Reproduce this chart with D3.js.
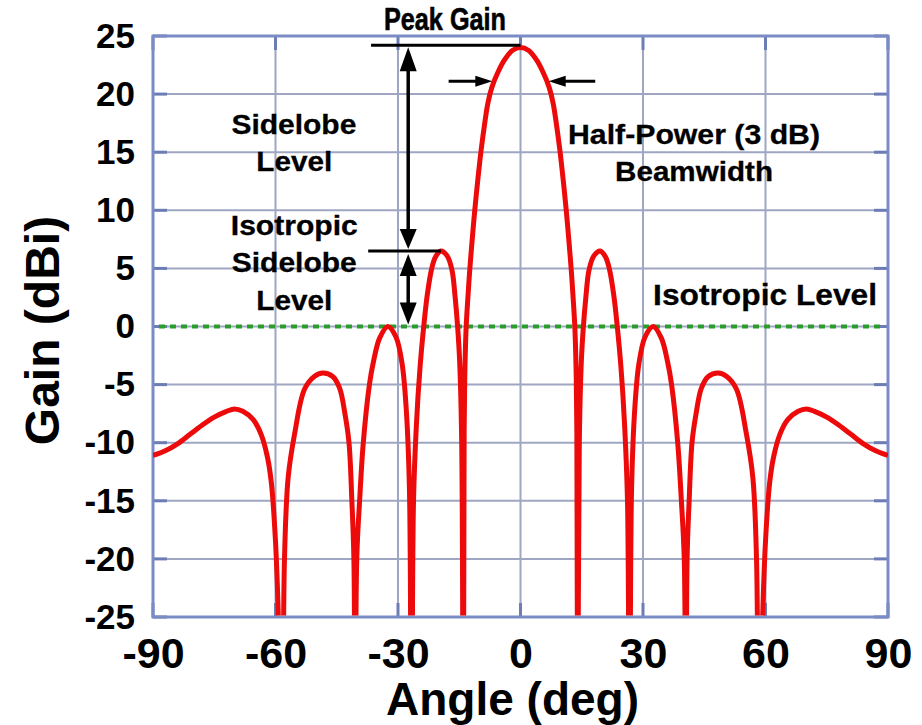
<!DOCTYPE html>
<html><head><meta charset="utf-8">
<script src="https://cdn.jsdelivr.net/npm/d3@7"></script>
<style>
body{margin:0;background:#fff;}
svg{display:block;font-family:"Liberation Sans",Arial,Helvetica,sans-serif;font-weight:bold;}
</style>
</head><body>
<svg id="chart" width="922" height="725"></svg>
<script>
// ---- data ----
const angles = [
  -90, -87, -84, -81, -78, -75, -72, -70, -68, -65.5, -63.5, -62, -61, -60, -59.3,
  -58.4, -57.8, -56.9, -55.3, -52.9, -50.5, -48.4, -46, -44.3, -43, -42, -41.3, -40.8,
  -40.5, -40.1, -39.4, -38.5, -37, -36, -34.5, -32.5, -30.5, -29, -28, -27.2,
  -26.7, -26.2, -25.5, -24.6, -23.7, -22.8, -21.8, -20.8, -19.5, -18, -16.8, -16, -15.4, -14.9, -14.4,
  -14, -13.8, -13.6, -13.3, -12.9, -12.4, -11.8, -11.2, -10.4, -9.6, -8.8, -8, -7, -5.5, -4, -2,
  0,
  2, 4, 5.5, 7, 8, 8.8, 9.6, 10.4, 11.2, 11.8, 12.4, 12.9, 13.3, 13.6, 13.8, 14,
  14.4, 14.9, 15.4, 16, 16.8, 18, 19.5, 20.8, 21.8, 22.8, 23.7, 24.6, 25.5, 26.2, 26.7,
  27.2, 28, 29, 30.5, 32.5, 34.5, 36, 37, 38.5, 39.4, 40.1, 40.5,
  40.8, 41.3, 42, 43, 44.3, 46, 48.4, 50.5, 52.9, 55.3, 56.9, 57.8, 58.4,
  59.3, 60, 61, 62, 63.5, 65.5, 68, 70, 72, 75, 78, 81, 84, 87, 90
];
const gains = [
  -11.1, -10.7, -10.1, -9.3, -8.5, -7.8, -7.3, -7.1, -7.3, -8.0, -9.3, -11.2, -13.5, -18.5, -25,
  -40, -20, -13, -9.2, -5.4, -4.3, -4.0, -4.3, -5.3, -7.5, -10, -15, -20,
  -40, -20, -15, -10, -5, -3, -1, 0, -0.9, -3.2, -7, -14,
  -40, -15, -8.5, -3.5, 0, 2.8, 4.9, 6.0, 6.5, 6.1, 4.9, 2.5, 0, -3, -10,
  -40, -9, -3.5, 0, 2.4, 5, 7.6, 10, 12.8, 15.3, 17.4, 19.2, 20.6, 21.9, 22.9, 23.75,
  24.0,
  23.75, 22.9, 21.9, 20.6, 19.2, 17.4, 15.3, 12.8, 10, 7.6, 5, 2.4, 0, -3.5, -9, -40,
  -10, -3, 0, 2.5, 4.9, 6.1, 6.5, 6.0, 4.9, 2.8, 0, -3.5, -8.5, -15, -40,
  -14, -7, -3.2, -0.9, 0, -1, -3, -5, -10, -15, -20, -40,
  -20, -15, -10, -7.5, -5.3, -4.3, -4.0, -4.3, -5.4, -9.2, -13, -20, -40,
  -25, -18.5, -13.5, -11.2, -9.3, -8.0, -7.3, -7.1, -7.3, -7.8, -8.5, -9.3, -10.1, -10.7, -11.1
];
const xTicks = [-90, -60, -30, 0, 30, 60, 90];
const yTicks = [25, 20, 15, 10, 5, 0, -5, -10, -15, -20, -25];
const xTitle = "Angle (deg)";
const yTitle = "Gain (dBi)";

// annotation values (in data units)
const isotropicLevel = 0;
const peakGain = 24.2;
const sidelobeLevel = 6.5;
const halfPowerLevel = 21.1;
const beamEdges = [-6.9, 6.9];
const beamArrowTails = [-17.6, 18.3];
const arrowAngle = -27.5;
const peakLineStart = -36.6;
const sidelobeLineStart = -37.3;
const sidelobePeakAngle = -19.5;
const labels = [
  {text: "Peak Gain", a: -18.5, g: 25.5, size: 31, w: 122},
  {text: "Sidelobe", a: -55.5, g: 16.55, size: 27, w: 125},
  {text: "Level", a: -55.4, g: 13.4, size: 27, w: 76},
  {text: "Isotropic", a: -55.4, g: 7.9, size: 27, w: 127},
  {text: "Sidelobe", a: -55.4, g: 4.65, size: 27, w: 125},
  {text: "Level", a: -55.4, g: 1.45, size: 27, w: 76},
  {text: "Half-Power (3 dB)", a: 42.5, g: 15.7, size: 27, w: 252},
  {text: "Beamwidth", a: 42.5, g: 12.5, size: 27, w: 158},
  {text: "Isotropic Level", a: 59.9, g: 1.85, size: 30, w: 224}
];

// ---- drawing ----
const svg = d3.select("#chart");
const x = d3.scaleLinear().domain([-90, 90]).range([153, 888]);
const y = d3.scaleLinear().domain([-25, 25]).range([617, 36]);

const gridColor = "#9ea6c2", frameColor = "#7b8bc6", tickColor = "#6c7cb4";

// grid
svg.append("g").selectAll("line").data(xTicks.slice(1, -1)).join("line")
  .attr("x1", d => x(d)).attr("x2", d => x(d)).attr("y1", y(25)).attr("y2", y(-25))
  .attr("stroke", gridColor).attr("stroke-width", 2);
svg.append("g").selectAll("line").data(yTicks.slice(1, -1)).join("line")
  .attr("y1", d => y(d)).attr("y2", d => y(d)).attr("x1", x(-90)).attr("x2", x(90))
  .attr("stroke", gridColor).attr("stroke-width", 2);

// inner tick marks
const tl = 14;
const tg = svg.append("g").attr("stroke", tickColor).attr("stroke-width", 3);
yTicks.forEach(d => {
  tg.append("line").attr("x1", x(-90)).attr("x2", x(-90) + tl).attr("y1", y(d)).attr("y2", y(d));
  tg.append("line").attr("x1", x(90)).attr("x2", x(90) - tl).attr("y1", y(d)).attr("y2", y(d));
});
xTicks.forEach(d => {
  tg.append("line").attr("x1", x(d)).attr("x2", x(d)).attr("y1", y(25)).attr("y2", y(25) + tl);
  tg.append("line").attr("x1", x(d)).attr("x2", x(d)).attr("y1", y(-25)).attr("y2", y(-25) - tl);
});

// frame
svg.append("rect").attr("x", x(-90)).attr("y", y(25))
  .attr("width", x(90) - x(-90)).attr("height", y(-25) - y(25))
  .attr("fill", "none").attr("stroke", frameColor).attr("stroke-width", 3);

// axes labels (plain hyphen-minus like the reference)
const fmt = d => String(d);
const yAxis = svg.append("g").attr("transform", `translate(${x(-90)},0)`)
  .call(d3.axisLeft(y).tickValues(yTicks).tickSize(0).tickPadding(18).tickFormat(fmt));
yAxis.select(".domain").remove();
yAxis.selectAll("text").attr("font-size", 35).attr("font-family", null).attr("fill", "#000")
  .style("font-weight", "bold");

const xAxis = svg.append("g").attr("transform", `translate(0,${y(-25)})`)
  .call(d3.axisBottom(x).tickValues(xTicks).tickSize(0).tickPadding(20).tickFormat(fmt));
xAxis.select(".domain").remove();
xAxis.selectAll("text").attr("font-size", 43).attr("font-family", null).attr("fill", "#000")
  .style("font-weight", "bold");

svg.append("text").text(xTitle).attr("x", (x(-90) + x(90)) / 2 - 8).attr("y", 715)
  .attr("text-anchor", "middle").attr("font-size", 46);
svg.append("text").text(yTitle).attr("transform", `translate(59,${y(0) + 4}) rotate(-90)`)
  .attr("text-anchor", "middle").attr("font-size", 48);

// isotropic level line
svg.append("line").attr("x1", x(-90) + 6).attr("x2", x(90) - 6)
  .attr("y1", y(isotropicLevel)).attr("y2", y(isotropicLevel))
  .attr("stroke", "#2a9d2a").attr("stroke-width", 4).attr("stroke-dasharray", "6,5");

// curve
svg.append("clipPath").attr("id", "plotclip").append("rect")
  .attr("x", x(-90)).attr("y", y(25) - 10).attr("width", x(90) - x(-90)).attr("height", y(-25) - y(25) + 8.5);
const pts = angles.map((a, i) => [a, gains[i]]);
svg.append("path").datum(pts).attr("clip-path", "url(#plotclip)")
  .attr("d", d3.line().x(d => x(d[0])).y(d => y(d[1])).curve(d3.curveCatmullRom.alpha(0.5)))
  .attr("fill", "none").attr("stroke", "#ec0a0a").attr("stroke-width", 5)
  .attr("stroke-linejoin", "round");

// annotations
const ag = svg.append("g");
function head(tx, ty, dir, len, w) {
  let p;
  if (dir === "up") p = [[tx, ty], [tx - w / 2, ty + len], [tx + w / 2, ty + len]];
  if (dir === "down") p = [[tx, ty], [tx - w / 2, ty - len], [tx + w / 2, ty - len]];
  if (dir === "right") p = [[tx, ty], [tx - len, ty - w / 2], [tx - len, ty + w / 2]];
  if (dir === "left") p = [[tx, ty], [tx + len, ty - w / 2], [tx + len, ty + w / 2]];
  ag.append("path").attr("d", "M" + p.join("L") + "Z").attr("fill", "#000");
}
function seg(x1, y1, x2, y2, w) {
  ag.append("line").attr("x1", x1).attr("y1", y1).attr("x2", x2).attr("y2", y2)
    .attr("stroke", "#000").attr("stroke-width", w);
}
seg(x(peakLineStart), y(peakGain), x(0), y(peakGain), 3);
seg(x(sidelobeLineStart), y(sidelobeLevel), x(sidelobePeakAngle), y(sidelobeLevel), 3);
const ax = x(arrowAngle);
seg(ax, y(peakGain) + 8, ax, y(sidelobeLevel) - 8, 3.5);
head(ax, y(peakGain) + 2, "up", 24, 17);
head(ax, y(sidelobeLevel) - 2, "down", 20, 17);
seg(ax, y(sidelobeLevel) + 8, ax, y(isotropicLevel) - 8, 3.5);
head(ax, y(sidelobeLevel) + 3, "up", 22, 17);
head(ax, y(isotropicLevel) - 2, "down", 22, 17);
seg(x(beamArrowTails[0]), y(halfPowerLevel), x(beamEdges[0]) - 8, y(halfPowerLevel), 3);
head(x(beamEdges[0]), y(halfPowerLevel), "right", 17, 11);
seg(x(beamArrowTails[1]), y(halfPowerLevel), x(beamEdges[1]) + 8, y(halfPowerLevel), 3);
head(x(beamEdges[1]), y(halfPowerLevel), "left", 17, 11);

ag.selectAll("text.ann").data(labels).join("text").attr("class", "ann")
  .text(d => d.text).attr("x", d => x(d.a)).attr("y", d => y(d.g))
  .attr("text-anchor", "middle").attr("font-size", d => d.size)
  .attr("textLength", d => d.w).attr("lengthAdjust", "spacingAndGlyphs")
  .attr("stroke", "#000").attr("stroke-width", d => d.text === "Peak Gain" ? 0.6 : 0.3);
</script>
</body></html>
